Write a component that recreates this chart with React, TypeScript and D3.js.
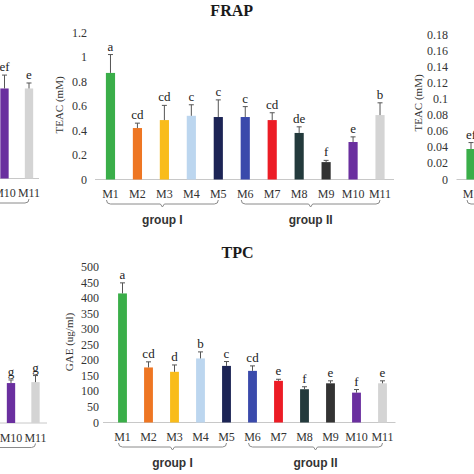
import React from 'react';
import * as d3 from 'd3';

// ---------- data ----------
const categories = ['M1', 'M2', 'M3', 'M4', 'M5', 'M6', 'M7', 'M8', 'M9', 'M10', 'M11'];
const barColors = ['#3aae49', '#ee7623', '#f9bc1b', '#bcd6ef', '#1c2455', '#3a4aab', '#ec1c25', '#233a3c', '#333333', '#6a2f9f', '#d4d4d4'];

const frapValues = [0.87, 0.42, 0.485, 0.52, 0.51, 0.51, 0.485, 0.38, 0.142, 0.306, 0.526];
const frapErrors = [0.15, 0.04, 0.12, 0.09, 0.14, 0.085, 0.06, 0.05, 0.014, 0.042, 0.1];
const frapLetters = ['a', 'cd', 'cd', 'c', 'c', 'c', 'cd', 'de', 'f', 'e', 'b'];
const frapTicks = ['0', '0.2', '0.4', '0.6', '0.8', '1', '1.2'];

const tpcValues = [415, 177, 163, 206, 182, 166, 134, 107, 126, 96, 126];
const tpcErrors = [34, 18, 22, 21, 14, 16, 5, 8, 8, 10, 8];
const tpcLetters = ['a', 'cd', 'd', 'b', 'c', 'cd', 'e', 'f', 'e', 'f', 'e'];
const tpcTicks = ['0', '50', '100', '150', '200', '250', '300', '350', '400', '450', '500'];

// partially visible neighbouring panels
const prevTopCats = ['M10', 'M11'];
const prevTopValues = [0.74, 0.74];
const prevTopErrors = [0.11, 0.045];
const prevTopLetters = ['ef', 'e'];

const prevBottomCats = ['M10', 'M11'];
const prevBottomValues = [128, 131];
const prevBottomErrors = [10, 21];
const prevBottomLetters = ['g', 'g'];

const nextTopCats = ['M1'];
const nextTopValues = [0.038];
const nextTopErrors = [0.008];
const nextTopLetters = ['ef'];
const nextTopTicks = ['0', '0.02', '0.04', '0.06', '0.08', '0.1', '0.12', '0.14', '0.16', '0.18'];

const groups = [
  { name: 'group I', first: 'M1', last: 'M5' },
  { name: 'group II', first: 'M6', last: 'M11' },
];

const SERIF = '"Liberation Serif", "Times New Roman", serif';
const SANS = '"Liberation Sans", Arial, sans-serif';

type PanelProps = {
  range: [number, number];
  yMax: number;
  yRange: [number, number];
  cats: string[];
  values: number[];
  errors: number[];
  letters: string[];
  ticks?: string[];
  tickX?: number;
  yLabel?: string;
  yLabelX?: number;
  yLabelY?: number;
  title?: string;
  titleX?: number;
  titleY?: number;
  baseline: [number, number];
};

function Panel(p: PanelProps) {
  const x = d3.scaleBand<string>().domain(categories).range(p.range).paddingInner(0.66).paddingOuter(0.33);
  const y = d3.scaleLinear().domain([0, p.yMax]).range(p.yRange);
  const bw = x.bandwidth();
  const base = y(0);
  const cx = (c: string) => (x(c) as number) + bw / 2;
  const catY = base + 18.5;
  const brY = base + 24.5;
  const grY = base + 44.5;
  return (
    <g>
      {p.title && (
        <text x={p.titleX} y={p.titleY} textAnchor="middle" fontFamily={SERIF} fontWeight="bold" fontSize={16} fill="#1a1a1a">
          {p.title}
        </text>
      )}
      {p.ticks &&
        p.ticks.map((t) => (
          <text key={t} x={p.tickX} y={y(+t) + 4} textAnchor="end" fontFamily={SERIF} fontSize={12} fill="#333">
            {t}
          </text>
        ))}
      {p.yLabel && (
        <text
          transform={`translate(${p.yLabelX},${p.yLabelY}) rotate(-90)`}
          textAnchor="middle"
          dominantBaseline="central"
          fontFamily={SERIF}
          fontSize={11}
          fill="#333"
        >
          {p.yLabel}
        </text>
      )}
      <line x1={p.baseline[0]} x2={p.baseline[1]} y1={base} y2={base} stroke="#c8c8c8" strokeWidth={1} />
      {p.cats.map((c, i) => {
        const ci = categories.indexOf(c);
        const top = y(p.values[i]);
        const et = y(p.values[i] + p.errors[i]);
        const xc = cx(c);
        return (
          <g key={c}>
            <rect x={x(c)} y={top} width={bw} height={base - top} fill={barColors[ci]} />
            <line x1={xc} x2={xc} y1={top} y2={et} stroke="#555" strokeWidth={1} />
            <line x1={xc - 2.5} x2={xc + 2.5} y1={et} y2={et} stroke="#555" strokeWidth={1} />
            <text x={xc} y={et - 4} textAnchor="middle" fontFamily={SERIF} fontSize={13} fill="#222">
              {p.letters[i]}
            </text>
            <text x={xc} y={catY} textAnchor="middle" fontFamily={SERIF} fontSize={12} fill="#333">
              {c}
            </text>
          </g>
        );
      })}
      {groups.map((g) => {
        const x1 = cx(g.first) - 4;
        const x2 = cx(g.last);
        const m = (x1 + x2) / 2;
        const d = `M${x1},${brY - 4} Q${x1},${brY} ${x1 + 4},${brY} L${m - 2},${brY} L${m},${brY + 3} L${m + 2},${brY} L${x2 - 4},${brY} Q${x2},${brY} ${x2},${brY - 4}`;
        const visible = m > -10 && m < 484;
        return (
          <g key={g.name}>
            <path d={d} fill="none" stroke="#8a8a8a" strokeWidth={1} />
            {visible && (
              <text x={m} y={grY} textAnchor="middle" fontFamily={SANS} fontWeight="bold" fontSize={12} fill="#333">
                {g.name}
              </text>
            )}
          </g>
        );
      })}
    </g>
  );
}

export default function App() {
  return (
    <svg width={474} height={474} style={{ position: 'absolute', left: 0, top: 0, background: '#fff' }}>
      <rect width={474} height={474} fill="#fff" />
      {/* previous panel (top, cut off) */}
      <Panel
        range={[-228.25, 41.25]}
        yMax={1.2}
        yRange={[178.5, 32.5]}
        cats={prevTopCats}
        values={prevTopValues}
        errors={prevTopErrors}
        letters={prevTopLetters}
        baseline={[-10, 39]}
      />
      {/* FRAP */}
      <Panel
        range={[97, 393.5]}
        yMax={1.2}
        yRange={[179.5, 32.5]}
        cats={categories}
        values={frapValues}
        errors={frapErrors}
        letters={frapLetters}
        ticks={frapTicks}
        tickX={87}
        yLabel="TEAC (mM)"
        yLabelX={59}
        yLabelY={105}
        title="FRAP"
        titleX={231.7}
        titleY={15.5}
        baseline={[95, 394]}
      />
      {/* next panel (top, cut off) */}
      <Panel
        range={[457.5, 754.5]}
        yMax={0.18}
        yRange={[179.5, 35]}
        cats={nextTopCats}
        values={nextTopValues}
        errors={nextTopErrors}
        letters={nextTopLetters}
        ticks={nextTopTicks}
        tickX={448}
        yLabel="TEAC (mM)"
        yLabelX={418}
        yLabelY={103}
        baseline={[456.5, 480]}
      />
      {/* previous panel (bottom, cut off) */}
      <Panel
        range={[-221.75, 47.75]}
        yMax={500}
        yRange={[423, 267]}
        cats={prevBottomCats}
        values={prevBottomValues}
        errors={prevBottomErrors}
        letters={prevBottomLetters}
        baseline={[-10, 47]}
      />
      {/* TPC */}
      <Panel
        range={[109.5, 395.5]}
        yMax={500}
        yRange={[422.5, 267]}
        cats={categories}
        values={tpcValues}
        errors={tpcErrors}
        letters={tpcLetters}
        ticks={tpcTicks}
        tickX={99}
        yLabel="GAE (ug/ml)"
        yLabelX={69}
        yLabelY={342}
        title="TPC"
        titleX={237.5}
        titleY={257.5}
        baseline={[103, 395.5]}
      />
    </svg>
  );
}
